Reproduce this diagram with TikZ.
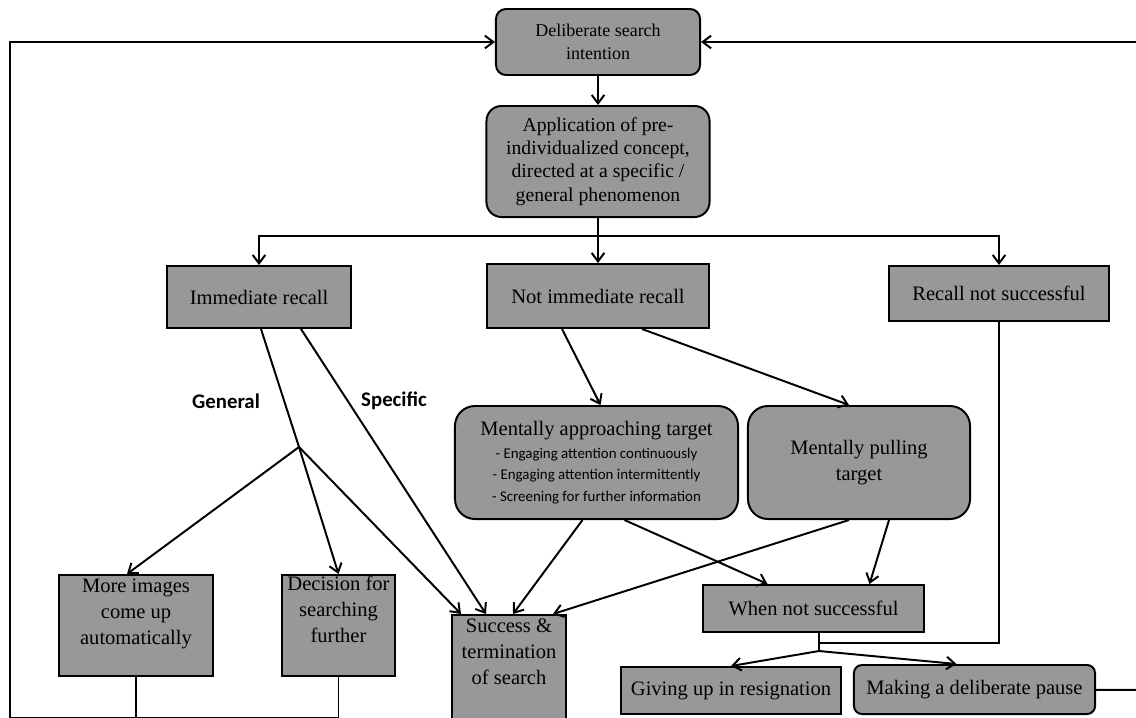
\documentclass[tikz,border=0pt]{standalone}
\usepackage{fontspec}
\setmainfont{Liberation Serif}
\newfontfamily\calibri{Carlito}
\usetikzlibrary{arrows.meta,calc}
\definecolor{boxgray}{RGB}{152,152,152}
\newcommand{\txt}{\fontsize{14.6}{18.5}\selectfont}
\newcommand{\bul}{\calibri\fontsize{10.6}{15}\selectfont}

\begin{document}
\begin{tikzpicture}[x=0.025cm,y=-0.025cm,line width=1.4pt,
  >={Straight Barb[length=6pt,width=9pt]},
  sq/.style={draw,fill=boxgray,align=center,inner sep=2pt,font=\txt},
  rd/.style={sq,rounded corners=#1},
  toptext/.style={anchor=north,align=center,inner sep=3pt,font=\txt},
  lbl/.style={font=\calibri\bfseries\fontsize{14.8}{17}\selectfont}]
\useasboundingbox (0,0) rectangle (1136,717);
\clip (0,0) rectangle (1136,717);

\node[rd=0.25cm,minimum width=5.1cm,minimum height=1.65cm,font=\fontsize{12.8}{16.4}\selectfont] (top) at (598,42) {Deliberate search\\intention};
\node[rd=0.375cm,minimum width=5.575cm,minimum height=2.775cm,font=\fontsize{14}{16.6}\selectfont] (apply) at (598,161.5) {Application of pre-\\individualized concept,\\directed at a specific /\\general phenomenon};

\node[sq,minimum width=4.6cm,minimum height=1.55cm] (imm) at (259,297) {Immediate recall};
\node[sq,minimum width=5.525cm,minimum height=1.6cm] (notimm) at (598,296) {Not immediate recall};
\node[sq,minimum width=5.5cm,minimum height=1.375cm] (recnot) at (999,293.5) {Recall not successful};

\node[rd=0.5cm,minimum width=7.075cm,minimum height=2.825cm,font=\fontsize{14.6}{15}\selectfont] (appr) at (596.5,462.5)
  {Mentally approaching target\\[1.5pt]{\bul - Engaging attention continuously}\\{\bul - Engaging attention intermittently}\\{\bul - Screening for further information}};
\node[rd=0.5cm,minimum width=5.55cm,minimum height=2.825cm] (pull) at (859,462.5) {Mentally pulling\\target};

\node[sq,minimum width=3.85cm,minimum height=2.525cm,label={[toptext]north:More images\\come up\\automatically}] (more) at (136,625.5) {};
\node[sq,minimum width=2.825cm,minimum height=2.525cm,label={[toptext,inner sep=1pt]north:Decision for\\searching\\further}] (dec) at (338.5,625.5) {};
\node[sq,minimum width=2.85cm,minimum height=3cm,label={[toptext]north:Success \&\\termination\\of search}] (succ) at (509,675) {};

\node[sq,minimum width=5.525cm,minimum height=1.175cm] (whennot) at (813.5,608.5) {When not successful};
\node[sq,minimum width=5.5cm,minimum height=1.175cm] (giveup) at (731,690.5) {Giving up in resignation};
\node[rd=0.2cm,minimum width=6.025cm,minimum height=1.225cm] (pause) at (974.5,689.5) {Making a deliberate pause};

\node[lbl] (general) at (226,401) {General};
\node[lbl] (specific) at (394,401) {Specific};

% top part
\draw[->] (top) -- (apply);
\coordinate (split) at ($(apply.south)+(0,18)$);
\draw (apply) -- (split);
\draw[->] (split) -| (imm);
\draw[->] (split) -- (notimm);
\draw[->] (split) -| (recnot);

% loops back to the search intention
\coordinate (loopl) at (10,718);
\draw[->] (dec) |- (loopl) |- (top);
\draw (more) -- (more |- loopl);
\coordinate (loopr) at (1150,690);
\draw[->] (pause) -- (loopr) |- (top);

% immediate recall
\coordinate (gen) at (299,447);
\draw ($(imm.south)+(2,0)$) -- (gen);
\draw[->] (gen) -- (dec.north);
\draw[->] (gen) -- ($(more.north)+(-9,0)$);
\draw[->] (gen) -- ($(succ.north)+(-48,0)$);
\draw[->] ($(imm.south)+(42,0)$) -- ($(succ.north)+(-23,0)$);

% not immediate recall
\draw[->] ($(notimm.south)+(-36,0)$) -- ($(appr.north)+(4,0)$);
\draw[->] ($(notimm.south)+(44,0)$) -- ($(pull.north)+(-10,0)$);
\draw[->] ($(appr.south)+(-14,0)$) -- ($(succ.north)+(4,0)$);
\draw[->] ($(appr.south)+(28,0)$) -- ($(whennot.north)+(-46,0)$);
\draw[->] ($(pull.south)+(-10,0)$) -- ($(succ.north)+(44,0)$);
\draw[->] ($(pull.south)+(30,0)$) -- ($(whennot.north)+(56,0)$);

% when not successful
\coordinate (fork) at (819,651);
\draw ($(whennot.south)+(5.5,0)$) -- (fork);
\draw (recnot) |- ($(whennot.south)+(5.5,10)$);
\draw[->] (fork) -- (giveup.north);
\draw[->] (fork) -- ($(pause.north)+(-18,0)$);
\end{tikzpicture}
\end{document}
